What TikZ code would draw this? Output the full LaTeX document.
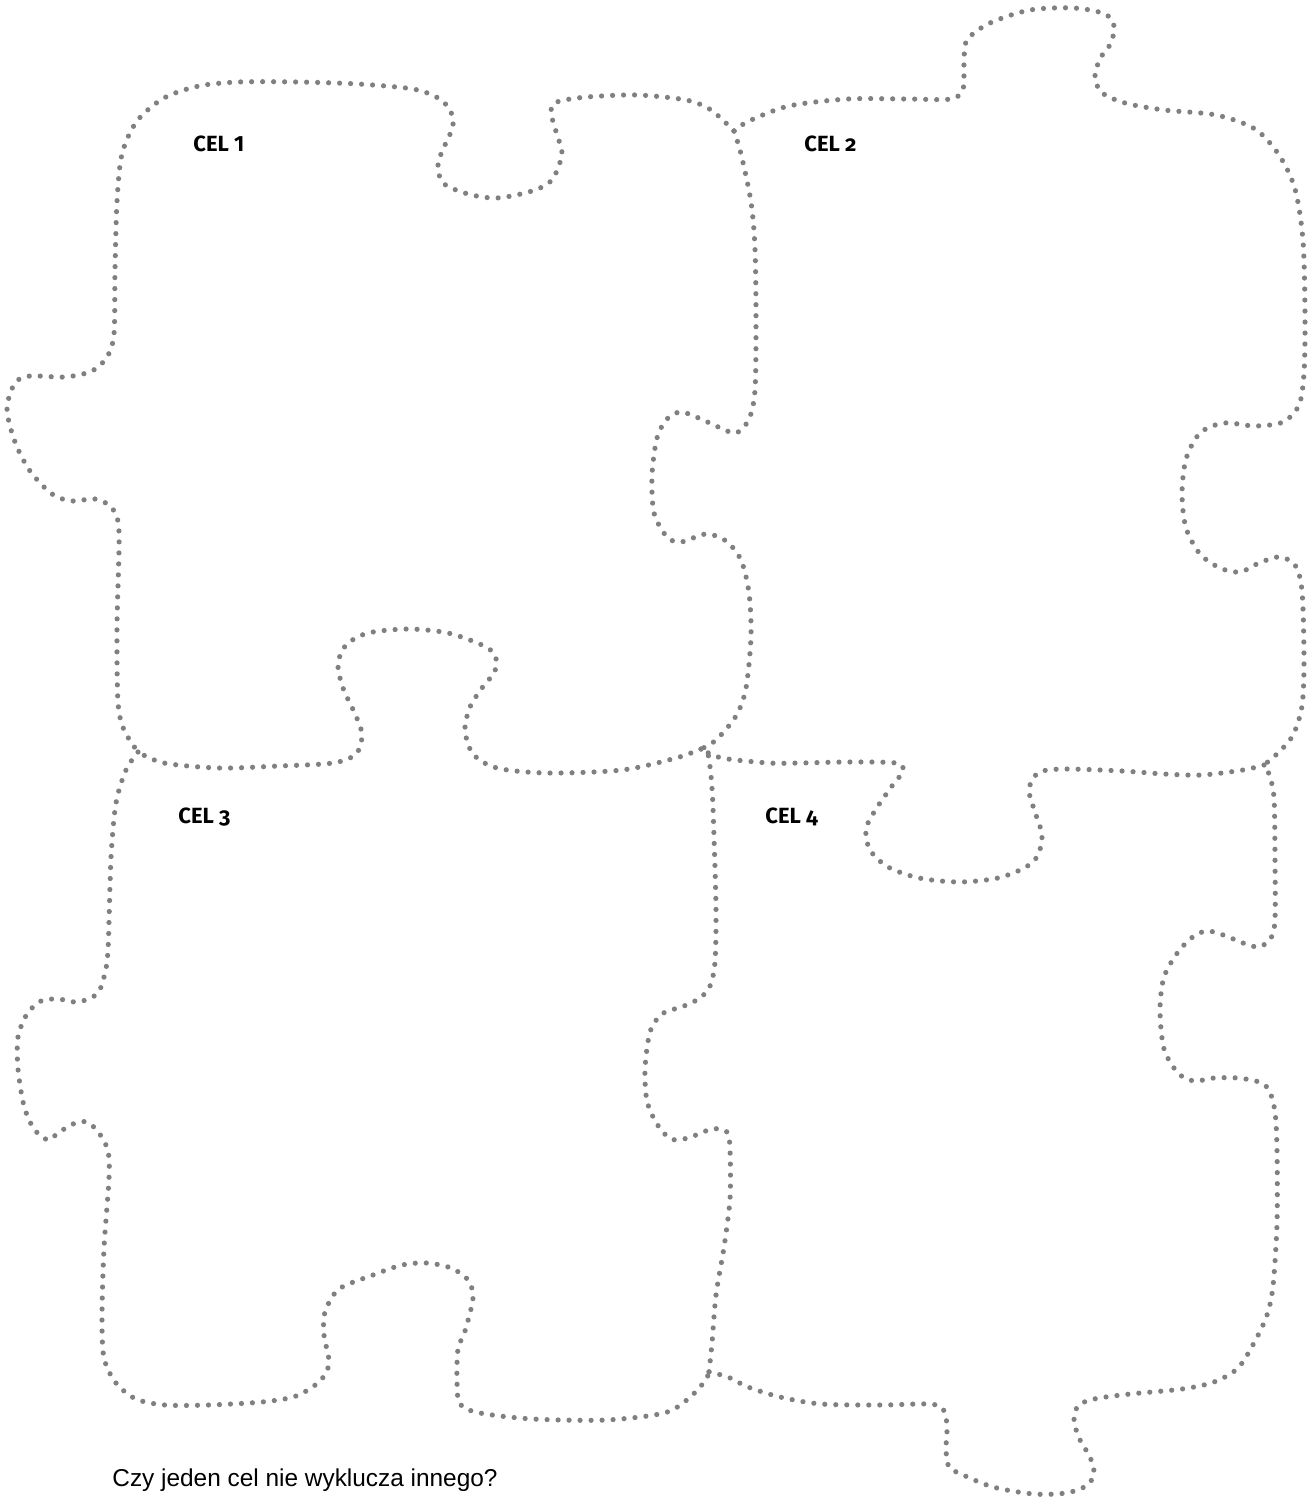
\documentclass[tikz,border=0pt]{standalone}
\usepackage{fontspec}
\setmainfont{Liberation Sans}
\newfontfamily\celfont{Fira Sans}[Numbers=OldStyle]
\usetikzlibrary{positioning}

\tikzset{
  piece/.style={draw=black!50, line width=2.6pt, line cap=round,
    dash pattern=on 0pt off 5.5pt},
  cel/.style={font=\celfont\bfseries\fontsize{11}{13}\selectfont,
    anchor=base west, inner sep=0pt},
}

\begin{document}
\begin{tikzpicture}[x=0.5pt,y=-0.5pt]
  \useasboundingbox (0,0) rectangle (1310,1497);
  % junctions of the four pieces
  \coordinate (jtop) at (734,131);
  \coordinate (jmid) at (701,749);
  \coordinate (jleft) at (138,752);
  \coordinate (jright) at (1264,765);
  \coordinate (jbot) at (709,1372);

  % piece 1, top and left sides
  \draw[piece] plot[smooth] coordinates {(734,131) (711,110) (686,100) (637,95)
    (587,97) (557,102) (551,112) (557,135) (562,154) (552,180) (532,191)
    (497,198) (468,194) (443,183) (438,164) (445,145) (453,126) (450,110)
    (438,98) (413,89) (358,84) (298,82) (239,82) (199,86) (164,98) (137,121)
    (122,154) (117,202) (115,270) (114,334) (107,357) (92,371) (65,377)
    (30,376) (15,383) (7,409) (15,442) (30,471) (52,494) (72,501) (95,499)
    (112,508) (119,532) (117,626) (118,702) (124,730) (138,752)};
  % between pieces 1 and 2
  \draw[piece] plot[smooth] coordinates {(734,131) (741,154) (751,202)
    (755,249) (756,320) (755,390) (749,419) (736,433) (716,426) (701,419)
    (681,412) (667,419) (657,438) (652,475) (654,513) (667,537) (681,542)
    (706,534) (726,541) (741,560) (749,593) (751,636) (746,688) (736,716)
    (716,740) (701,749)};
  % piece 2, top and right sides
  \draw[piece] plot[smooth] coordinates {(734,131) (749,121) (789,106)
    (848,99) (907,99) (951,99) (963,89) (964,63) (967,40) (990,23) (1030,10)
    (1074,8) (1105,14) (1114,26) (1111,43) (1101,57) (1095,75) (1101,92)
    (1125,103) (1164,110) (1216,115) (1255,129) (1279,155) (1295,189)
    (1303,241) (1305,316) (1304,373) (1299,405) (1283,422) (1255,426)
    (1224,423) (1200,433) (1186,459) (1182,494) (1186,528) (1200,554)
    (1220,568) (1240,572) (1259,563) (1279,557) (1295,565) (1302,591)
    (1304,660) (1302,706) (1293,735) (1279,752) (1264,765)};
  % between pieces 2 and 4
  \draw[piece] plot[smooth] coordinates {(1264,765) (1243,770) (1202,775)
    (1164,774) (1122,771) (1062,769) (1038,773) (1029,790) (1036,815)
    (1042,835) (1038,855) (1026,867) (998,878) (959,882) (919,878) (888,867)
    (870,850) (866,829) (876,809) (892,786) (903,771) (896,763) (848,762)
    (800,763) (769,763) (722,758) (701,749)};
  % between pieces 1 and 3
  \draw[piece] plot[smooth] coordinates {(701,749) (676,758) (622,770)
    (547,773) (497,768) (473,754) (465,730) (470,707) (482,688) (495,671)
    (495,655) (482,645) (448,633) (408,629) (368,633) (346,645) (338,664)
    (343,688) (356,716) (362,735) (356,754) (333,763) (279,766) (219,768)
    (164,763) (138,752)};
  % piece 3, left and bottom sides
  \draw[piece] plot[smooth] coordinates {(138,752) (126,770) (116,803)
    (111,858) (108,950) (104,977) (97,994) (78,1002) (58,999) (41,1001)
    (27,1014) (18,1037) (18,1069) (24,1106) (34,1129) (48,1140) (58,1133)
    (73,1124) (87,1122) (99,1133) (108,1151) (109,1179) (104,1248)
    (102,1317) (104,1358) (116,1383) (136,1399) (165,1405) (208,1405)
    (262,1402) (296,1396) (320,1381) (329,1363) (324,1335) (325,1312)
    (339,1289) (373,1275) (402,1265) (427,1263) (451,1268) (468,1280)
    (473,1298) (465,1331) (458,1349) (457,1381) (460,1404) (480,1413)
    (533,1419) (606,1420) (664,1413) (688,1399) (705,1381) (709,1372)};
  % between pieces 3 and 4
  \draw[piece] plot[smooth] coordinates {(701,749) (708,754) (712,788)
    (714,837) (716,909) (715,962) (710,986) (700,998) (684,1006) (662,1014)
    (650,1032) (645,1069) (647,1101) (657,1124) (671,1139) (688,1138)
    (712,1129) (727,1132) (730,1150) (730,1199) (724,1247) (716,1295)
    (712,1343) (709,1372)};
  % piece 4, bottom and right sides
  \draw[piece] plot[smooth] coordinates {(709,1372) (728,1377) (748,1387)
    (780,1397) (821,1404) (881,1405) (929,1404) (943,1409) (947,1426)
    (946,1450) (949,1467) (961,1474) (993,1487) (1034,1494) (1066,1493)
    (1086,1486) (1094,1474) (1090,1457) (1080,1440) (1074,1421) (1078,1406)
    (1094,1399) (1130,1394) (1182,1389) (1214,1382) (1238,1368) (1255,1341)
    (1267,1315) (1273,1286) (1277,1223) (1277,1150) (1275,1112) (1269,1090)
    (1259,1082) (1238,1078) (1214,1078) (1194,1081) (1178,1073) (1164,1049)
    (1160,1010) (1164,977) (1178,952) (1194,936) (1208,931) (1226,936)
    (1243,943) (1259,947) (1271,938) (1275,919) (1275,861) (1274,798)
    (1269,774) (1264,765)};

  % labels
  \node[cel] (cel1) at (193,152) {CEL {\addfontfeature{Numbers=Lining}1}};
  \node[cel] (cel2) at (804,152) {CEL 2};
  \node[cel] (cel3) at (178,823) {CEL 3};
  \node[cel] (cel4) at (765,823) {CEL 4};
  \node[font=\fontsize{12.2}{14}\selectfont, anchor=base west, inner sep=0pt]
    (question) at (112,1486) {Czy jeden cel nie wyklucza innego?};
\end{tikzpicture}
\end{document}
